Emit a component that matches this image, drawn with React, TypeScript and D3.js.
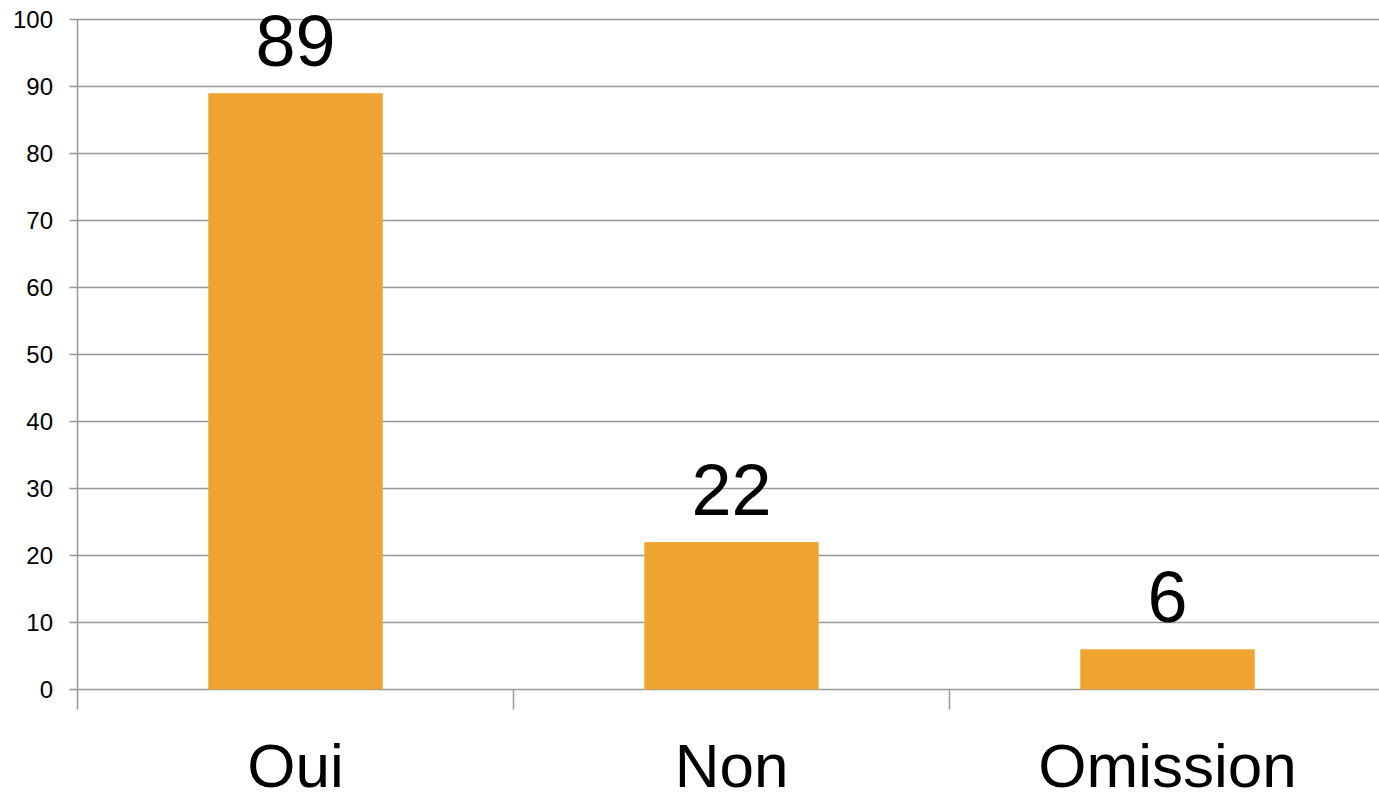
import React from "react";
import * as d3 from "d3";

const categories = ["Oui", "Non", "Omission"];
const values = [89, 22, 6];
const yTicks = [0, 10, 20, 30, 40, 50, 60, 70, 80, 90, 100];

const W = 1379;
const H = 794;
const left = 77.5;
const right = 1385.5;
const top = 19.5;
const bottom = 689.5;
const font = "'Liberation Sans', Arial, sans-serif";

export default function App() {
  const x = d3.scaleBand<string>().domain(categories).range([left, right]).paddingInner(0.6).paddingOuter(0.3);
  const band = d3.scaleBand<string>().domain(categories).range([left, right]);
  const y = d3.scaleLinear().domain([0, 100]).range([bottom, top]);
  const grid = "#999999";
  return (
    <svg width={W} height={H} style={{ position: "absolute", left: 0, top: 0, background: "#fff" }}>
      {yTicks.map((t) => (
        <g key={t}>
          <line x1={left - 8} x2={W} y1={y(t)} y2={y(t)} stroke={grid} strokeWidth={1.5} />
          <text x={53} y={y(t)} dy="0.35em" textAnchor="end" fontFamily={font} fontSize={24} fill="#000">
            {t}
          </text>
        </g>
      ))}
      <line x1={left} x2={left} y1={top} y2={bottom + 20} stroke={grid} strokeWidth={1.5} />
      {categories.map((c, i) =>
        i > 0 ? (
          <line key={c} x1={band(c)!} x2={band(c)!} y1={bottom} y2={bottom + 20} stroke={grid} strokeWidth={1.5} />
        ) : null
      )}
      {categories.map((c, i) => (
        <g key={c}>
          <rect x={x(c)!} y={y(values[i])} width={x.bandwidth()} height={y(0) - y(values[i])} fill="#EFA331" />
          <text
            x={x(c)! + x.bandwidth() / 2}
            y={y(values[i]) - 27}
            textAnchor="middle"
            fontFamily={font}
            fontSize={72}
            fill="#000"
          >
            {values[i]}
          </text>
          <text
            x={x(c)! + x.bandwidth() / 2}
            y={787}
            textAnchor="middle"
            fontFamily={font}
            fontSize={62}
            fill="#000"
          >
            {c}
          </text>
        </g>
      ))}
    </svg>
  );
}
